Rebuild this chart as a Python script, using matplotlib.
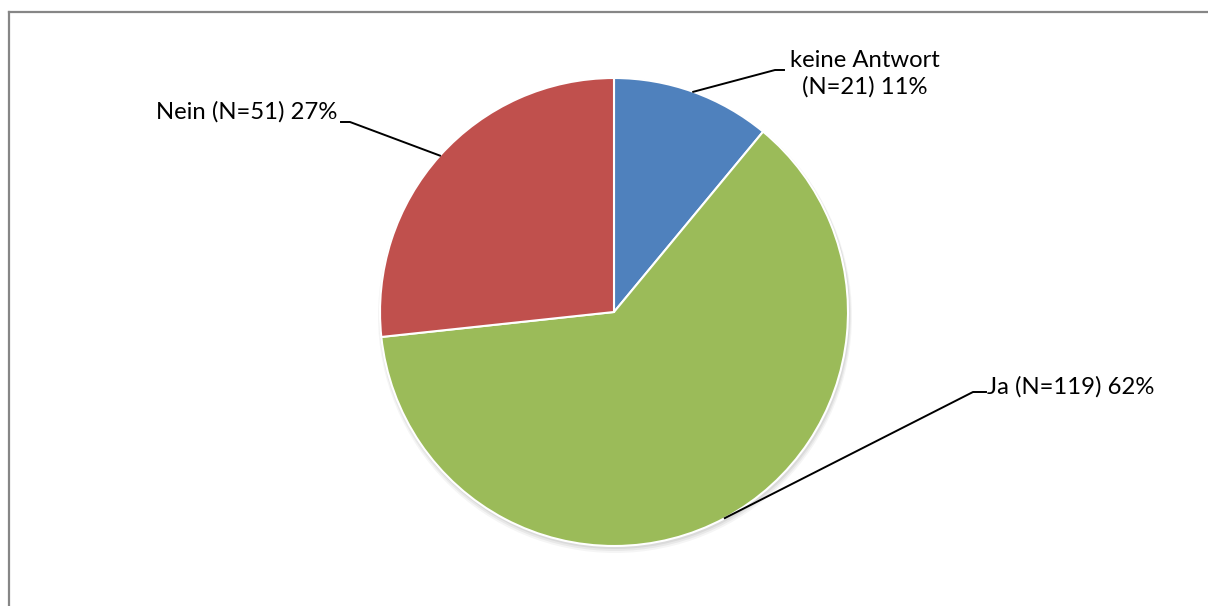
import numpy as np
import matplotlib.pyplot as plt
from matplotlib.lines import Line2D
from matplotlib.patches import Circle

labels = ["keine Antwort\n(N=21) 11%", "Ja (N=119) 62%", "Nein (N=51) 27%"]
counts = [21, 119, 51]
colors = ["#4F81BD", "#9BBB59", "#C0504D"]

W, H = 1208, 606
fig = plt.figure(figsize=(W / 100, H / 100), dpi=100)
ax = fig.add_axes([0, 0, 1, 1])

cx, cy, r = 614, H - 312, 234

# soft shadow under the pie
for i, a in enumerate([0.06, 0.05, 0.04]):
    ax.add_patch(Circle((cx + 1, cy - 2 - i), r + 1 + i, color="black", alpha=a, lw=0, zorder=0))

wedges, _ = ax.pie(counts, colors=colors, startangle=90, counterclock=False,
                   center=(cx, cy), radius=r, frame=True,
                   wedgeprops=dict(edgecolor="white", linewidth=1.5))
ax.set_xlim(0, W)
ax.set_ylim(0, H)
ax.set_aspect("equal")
ax.axis("off")

# label text positions and leader elbows (pixels from top)
text_pos = [(865, 74, "center"), (987, 387, "left"), (337, 112, "right")]
elbows = [((775, 70), (784, 70)), ((973, 392), (986, 392)), ((350, 122), (341, 122))]

for w, lab, (tx, ty, ha), (e1, e2) in zip(wedges, labels, text_pos, elbows):
    mid = np.deg2rad((w.theta1 + w.theta2) / 2)
    px, py = cx + r * np.cos(mid), cy + r * np.sin(mid)
    ax.plot([px, e1[0], e2[0]], [py, H - e1[1], H - e2[1]], color="black", lw=1.4, zorder=5)
    ax.text(tx, H - ty, lab, ha=ha, va="center", fontsize=17.2, family="Lato",
            linespacing=1.27, color="black")

# chart area border (left and top edges visible)
fig.add_artist(Line2D([8.5 / W, 8.5 / W], [0, 1 - 11.5 / H], transform=fig.transFigure,
                      color="#868686", lw=1.6))
fig.add_artist(Line2D([8.5 / W, 1], [1 - 11.5 / H, 1 - 11.5 / H], transform=fig.transFigure,
                      color="#868686", lw=1.6))

fig.savefig("out.png", dpi=100)
